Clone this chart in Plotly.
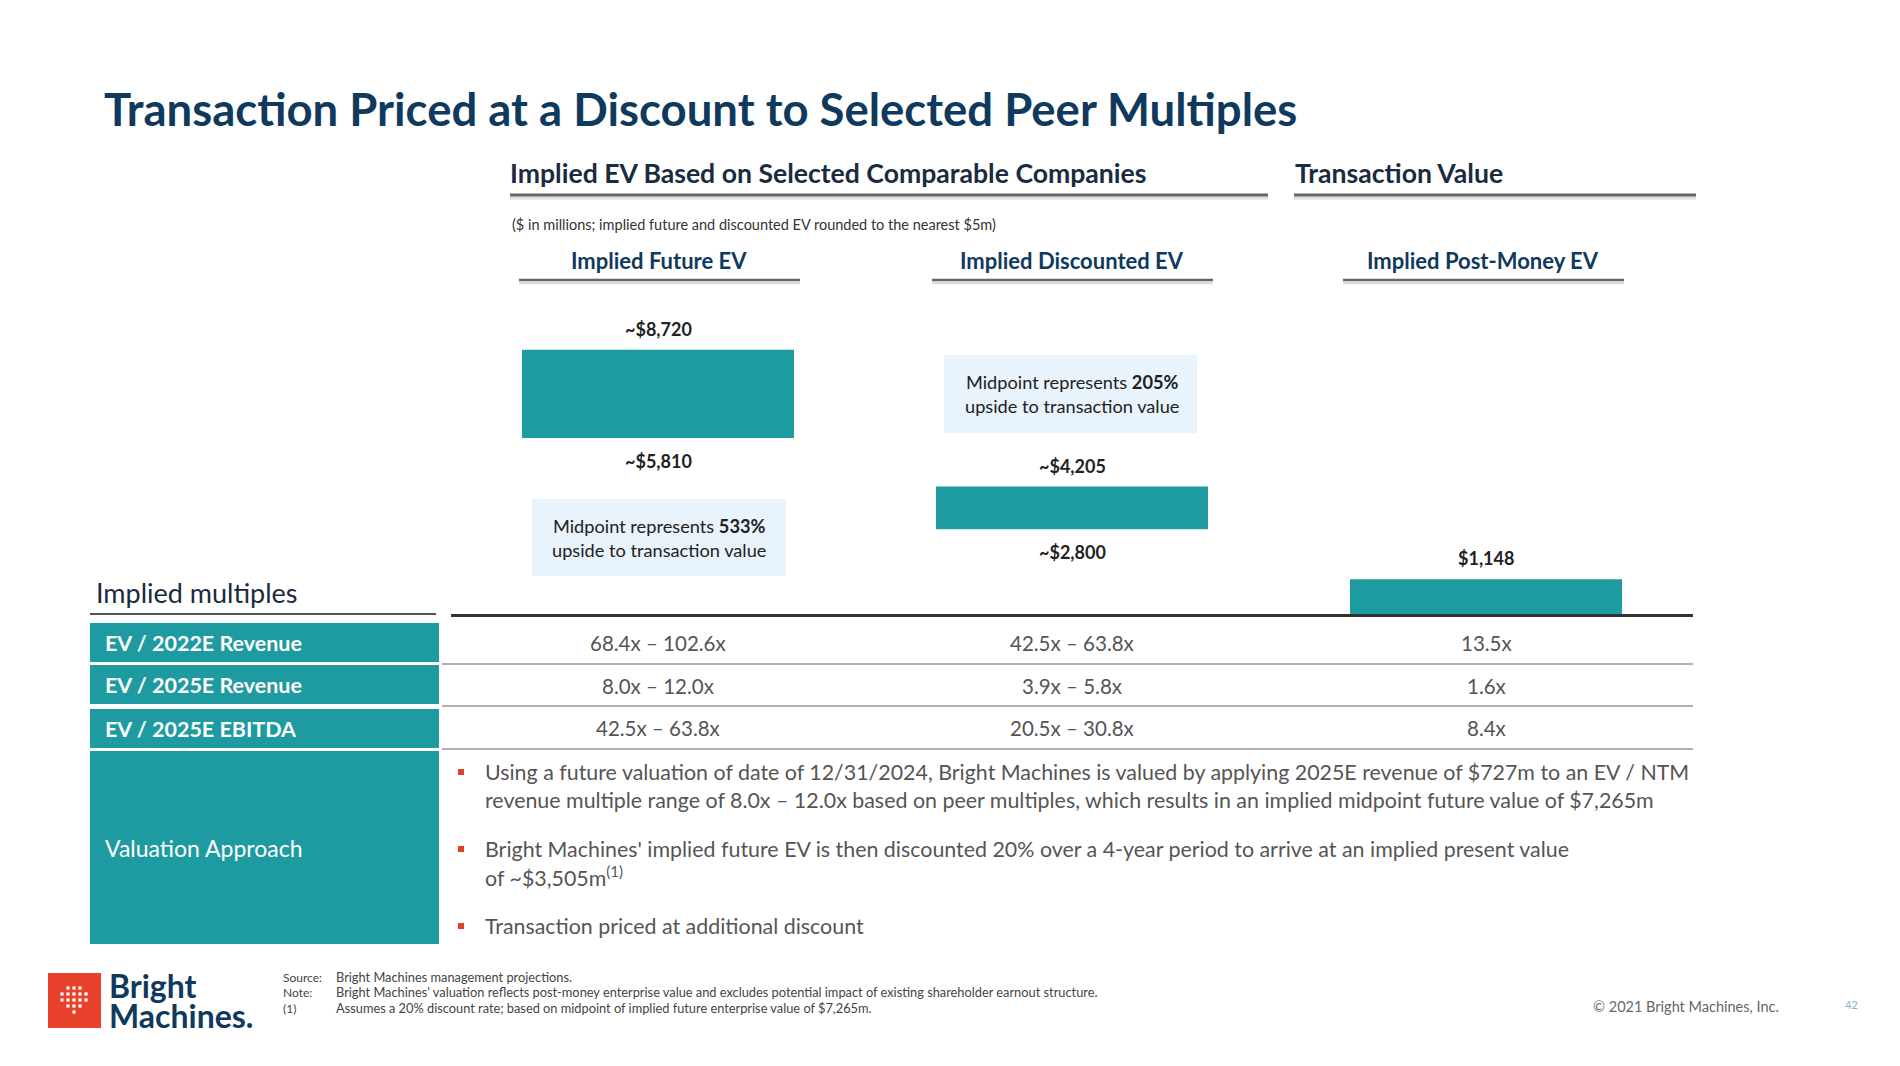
import plotly.graph_objects as go

# ---------------- data ----------------
categories = ["Implied Future EV", "Implied Discounted EV", "Implied Post-Money EV"]
ev_low = [5810, 2800, 0]
ev_high = [8720, 4205, 1148]
label_high = ["~$8,720", "~$4,205", "$1,148"]
label_low = ["~$5,810", "~$2,800", ""]
multiple_rows = ["EV / 2022E Revenue", "EV / 2025E Revenue", "EV / 2025E EBITDA"]
multiples_col1 = ["68.4x – 102.6x", "8.0x – 12.0x", "42.5x – 63.8x"]
multiples_col2 = ["42.5x – 63.8x", "3.9x – 5.8x", "20.5x – 30.8x"]
multiples_col3 = ["13.5x", "1.6x", "8.4x"]
callouts = ["Midpoint represents <b>533%</b><br>upside to transaction value",
            "Midpoint represents <b>205%</b><br>upside to transaction value"]
bullet_lines = [
    ["Using a future valuation of date of 12/31/2024, Bright Machines is valued by applying 2025E revenue of $727m to an EV / NTM",
     "revenue multiple range of 8.0x – 12.0x based on peer multiples, which results in an implied midpoint future value of $7,265m"],
    ["Bright Machines' implied future EV is then discounted 20% over a 4-year period to arrive at an implied present value",
     "of ~$3,505m<sup>(1)</sup>"],
    ["Transaction priced at additional discount"],
]
footnotes = [("Source:", "Bright Machines management projections."),
             ("Note:", "Bright Machines' valuation reflects post-money enterprise value and excludes potential impact of existing shareholder earnout structure."),
             ("(1)", "Assumes a 20% discount rate; based on midpoint of implied future enterprise value of $7,265m.")]

# ---------------- style ----------------
OFF = 8                     # default page body margin
W, H = 1900 - 2 * OFF, 1066 - 2 * OFF
TEAL = "#1e9aa1"
NAVY = "#0f3a5e"
GRAY = "#555555"
FONT = "Lato"


def px(x):
    return (x - OFF) / W


def py(y):
    return 1 - (y - OFF) / H


fig = go.Figure()
fig.add_trace(go.Bar(
    x=[0, 1, 2],
    y=[h - l for h, l in zip(ev_high, ev_low)],
    base=ev_low,
    width=0.657,
    marker=dict(color=TEAL, line=dict(width=0)),
    hoverinfo="skip",
    showlegend=False,
))

shapes = []
ann = []


def line(x0, y0, x1, y1, color, width):
    shapes.append(dict(type="line", xref="paper", yref="paper",
                       x0=px(x0), y0=py(y0), x1=px(x1), y1=py(y1),
                       line=dict(color=color, width=width)))


def rect(x0, y0, x1, y1, color, layer="below"):
    shapes.append(dict(type="rect", xref="paper", yref="paper",
                       x0=px(x0), y0=py(y0), x1=px(x1), y1=py(y1),
                       fillcolor=color, line=dict(width=0), layer=layer))


def text(x, y, t, size, color, xanchor="left", family=FONT, yanchor="middle"):
    ann.append(dict(xref="paper", yref="paper", x=px(x), y=py(y), text=t,
                    showarrow=False, xanchor=xanchor, yanchor=yanchor,
                    font=dict(family=family, size=size, color=color)))


# Title
text(102, 108, "<b>Transaction Priced at a Discount to Selected Peer Multiples</b>", 45.5, NAVY)

# Section headers
text(508, 173, "<b>Implied EV Based on Selected Comparable Companies</b>", 26.6, "#1a2b40")
text(1293, 173, "<b>Transaction Value</b>", 26.6, "#1a2b40")
line(510, 198, 1268, 198, "#dddddd", 3)
line(1294, 198, 1696, 198, "#dddddd", 3)
line(510, 195, 1268, 195, "#666666", 3)
line(1294, 195, 1696, 195, "#666666", 3)
text(510, 224, "($ in millions; implied future and discounted EV rounded to the nearest $5m)", 14.5, "#333333")

# Sub headers
sub_centers = [659, 1072, 1483]
sub_lines = [(519, 800), (932, 1213), (1343, 1624)]
for c, (a, b), name in zip(sub_centers, sub_lines, categories):
    text(c, 260, "<b>%s</b>" % name, 22, NAVY, xanchor="center")
    line(a, 283, b, 283, "#dddddd", 2.5)
    line(a, 280, b, 280, "#666666", 2.5)

# Bar labels
for i in range(3):
    ann.append(dict(xref="x", yref="y", x=i, y=ev_high[i], text="<b>%s</b>" % label_high[i],
                    showarrow=False, yanchor="middle", yshift=21,
                    font=dict(family=FONT, size=18, color="#222222")))
    if label_low[i]:
        ann.append(dict(xref="x", yref="y", x=i, y=ev_low[i], text="<b>%s</b>" % label_low[i],
                        showarrow=False, yanchor="middle", yshift=-23,
                        font=dict(family=FONT, size=18, color="#222222")))

# Callouts
rect(532, 499, 786, 576, "#e8f3fb")
text(659, 538, callouts[0], 18.2, "#222222", xanchor="center")
rect(944, 355, 1197, 433, "#e8f3fb")
text(1072, 394, callouts[1], 18.2, "#222222", xanchor="center")

# Implied multiples table
text(94, 592, "Implied multiples", 27, "#1a2b40")
line(90, 614, 436, 614, "#555555", 2)
row_spans = [(623, 662), (665, 704), (709, 748)]
for (a, b), name in zip(row_spans, multiple_rows):
    rect(90, a, 439, b, TEAL)
    text(103, (a + b) / 2, "<b>%s</b>" % name, 21.5, "#ffffff")
rect(90, 751, 439, 944, TEAL)
text(103, 848, "Valuation Approach", 23, "#ffffff")
for y in [664, 706, 749]:
    line(442, y, 1693, y, "#b0b0b0", 2)
row_centers = [643, 686, 728]
for r in range(3):
    for ci, col in enumerate([multiples_col1, multiples_col2, multiples_col3]):
        ann.append(dict(xref="x", yref="paper", x=ci, y=py(row_centers[r]), text=col[r],
                        showarrow=False, yanchor="middle",
                        font=dict(family=FONT, size=20.5, color=GRAY)))

# Bullets
bullet_y = [[772, 800], [849, 876], [926]]
for lines_, ys in zip(bullet_lines, bullet_y):
    rect(458, ys[0] - 3, 464, ys[0] + 3, "#e0402a")
    for t, y in zip(lines_, ys):
        text(483, y, t, 21.4, GRAY)

# Footer
rect(48, 973, 101, 1028, "#e8412c")
dot_rows = [[1, 2, 3], [0, 1, 2, 3, 4], [0, 1, 2, 3, 4], [1, 2, 3], [2]]
for ri, cols in enumerate(dot_rows):
    for cidx in cols:
        cx = 62 + cidx * 6
        cy = 988 + ri * 6
        rect(cx - 1.6, cy - 1.6, cx + 1.6, cy + 1.6, "#ffffff", layer="above")
text(107, 985, "<b>Bright</b>", 32, NAVY)
text(107, 1015, "<b>Machines.</b>", 32, NAVY)
for (lab, t), y in zip(footnotes, [977, 992, 1008]):
    text(281, y, lab, 12, "#444444")
    text(334, y, t, 12.8, "#444444")
text(1591, 1006, "© 2021 Bright Machines, Inc.", 14.5, "#666666")
text(1843, 1004, "42", 11, "#7fb8c4")

fig.update_layout(
    width=W, height=H, autosize=False,
    margin=dict(l=0, r=0, t=0, b=0),
    paper_bgcolor="white", plot_bgcolor="rgba(0,0,0,0)",
    shapes=shapes, annotations=ann,
    xaxis=dict(domain=[px(451), px(1693)], range=[-0.5, 2.5], showticklabels=False,
               showgrid=False, zeroline=False, showline=True, linecolor="#333333",
               linewidth=2.5, fixedrange=True),
    yaxis=dict(domain=[py(614), py(300)], range=[0, 10360], showticklabels=False,
               showgrid=False, zeroline=False, showline=False, fixedrange=True),
    font=dict(family=FONT),
)

fig.write_html("out.html")
